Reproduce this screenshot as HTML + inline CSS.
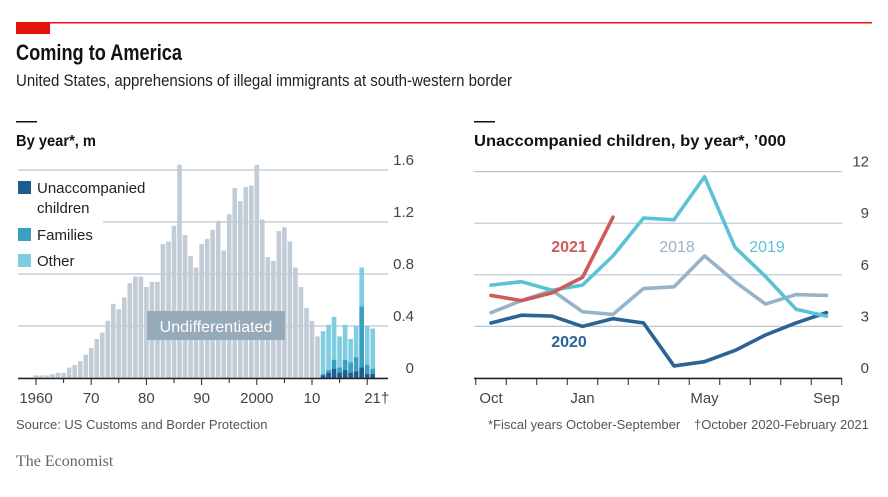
<!DOCTYPE html>
<html><head><meta charset="utf-8"><style>
body{margin:0;background:#fff;width:888px;height:492px;overflow:hidden;font-family:"Liberation Sans",sans-serif}
svg text{font-family:"Liberation Sans",sans-serif}
</style></head><body>
<svg id="c" width="888" height="492">
<rect x="16" y="22" width="856" height="1.5" fill="#e3120b"/>
<rect x="16" y="22" width="34" height="12" fill="#e3120b"/>
<text x="16" y="60" font-size="22" font-weight="bold" fill="#121212" textLength="166" lengthAdjust="spacingAndGlyphs">Coming to America</text>
<text x="16" y="86" font-size="17" fill="#222" textLength="496" lengthAdjust="spacingAndGlyphs">United States, apprehensions of illegal immigrants at south-western border</text>
<rect x="16" y="121" width="21" height="1.5" fill="#121212"/>
<text x="16" y="146" font-size="16" font-weight="bold" fill="#121212" textLength="80" lengthAdjust="spacingAndGlyphs">By year*, m</text>
<rect x="474" y="121" width="21" height="1.5" fill="#121212"/>
<text x="474" y="146" font-size="16" font-weight="bold" fill="#121212" textLength="312" lengthAdjust="spacingAndGlyphs">Unaccompanied children, by year*, ’000</text>
<g id="left"></g><g id="right"></g>
<text x="16" y="429" font-size="13" fill="#555">Source: US Customs and Border Protection</text>
<text x="488" y="429" font-size="13" fill="#555">*Fiscal years October-September</text>
<text x="694" y="429" font-size="13" fill="#555">†October 2020-February 2021</text>
<text x="16" y="466" font-size="16" fill="#666" style="font-family:'Liberation Serif',serif">The Economist</text>
</svg>
<script>
const years=[];for(let y=1960;y<=2021;y++)years.push(y);
const undiff=[.02,.02,.02,.03,.04,.04,.08,.1,.13,.18,.23,.3,.35,.44,.57,.53,.62,.73,.78,.78,.70,.74,.74,1.03,1.05,1.17,1.64,1.1,.94,.85,1.03,1.07,1.14,1.21,.98,1.26,1.46,1.36,1.47,1.48,1.64,1.22,.93,.90,1.13,1.16,1.05,.85,.7,.54,.44,.32];
const stackYears=[2012,2013,2014,2015,2016,2017,2018,2019,2020,2021];
const unacc=[.02,.04,.07,.04,.06,.04,.05,.08,.03,.03];
const families=[.01,.02,.07,.04,.08,.08,.11,.47,.07,.04];
const totals=[.36,.41,.47,.32,.41,.30,.40,.85,.40,.38];
const leftTicks=[0,0.4,0.8,1.2,1.6];
const leftTickLabels=["0","0.4","0.8","1.2","1.6"];
const xLabelYears=[1960,1970,1980,1990,2000,2010,2021];
const xLabels=["1960","70","80","90","2000","10","21†"];
const months=["Oct","Nov","Dec","Jan","Feb","Mar","Apr","May","Jun","Jul","Aug","Sep"];
const s2018=[3.8,4.5,5.1,3.85,3.7,5.2,5.3,7.1,5.6,4.3,4.85,4.8];
const s2019=[5.4,5.6,5.1,5.4,7.1,9.3,9.2,11.7,7.6,5.9,4.0,3.6];
const s2020=[3.2,3.65,3.6,3.0,3.45,3.2,0.7,0.95,1.6,2.5,3.2,3.8];
const s2021=[4.8,4.5,4.95,5.85,9.35];
const rightTicks=[0,3,6,9,12];
const NS="http://www.w3.org/2000/svg";
function mk(p,t,a){const e=document.createElementNS(NS,t);for(const k in a)e.setAttribute(k,a[k]);p.appendChild(e);return e;}
const L=document.getElementById('left'),R=document.getElementById('right');
const xL=y=>36+(y-1960)*5.52, yL=v=>378-v*130;
leftTicks.forEach((v,i)=>{const x0=v==1.2?103:18;
 const g=mk(L,'line',{x1:x0,x2:388,y1:yL(v),y2:yL(v),stroke:'#b7c6d3','stroke-width':1.2});
 
 
 const t=mk(L,'text',{x:414,y:yL(v)-5,'font-size':15,fill:'#444','text-anchor':'end'});t.textContent=leftTickLabels[i];
 
 });
years.forEach((y,i)=>{if(i<undiff.length){const b=mk(L,'rect',{x:xL(y)-2.3,y:yL(undiff[i]),width:4.6,height:undiff[i]*130,fill:'#c2ccd6'});
 
 }});
stackYears.forEach((y,i)=>{const x=xL(y)-2.3;
 const o=mk(L,'rect',{x:x,y:yL(totals[i]),width:4.6,height:totals[i]*130,fill:'#7fcde0'});
 
 
 const f=mk(L,'rect',{x:x,y:yL(unacc[i]+families[i]),width:4.6,height:(unacc[i]+families[i])*130,fill:'#3a9fc0'});
 
 
 const u=mk(L,'rect',{x:x,y:yL(unacc[i]),width:4.6,height:unacc[i]*130,fill:'#1f5c8c'});
 
 });
const ax=mk(L,'line',{x1:18,x2:388,y1:378.5,y2:378.5,stroke:'#222','stroke-width':1.5});


for(let y=1960;y<=2020;y+=5){const t=mk(L,'line',{x1:xL(y),x2:xL(y),y1:378,y2:y%10==0?385:383,stroke:'#222','stroke-width':1});
 
 }
xLabelYears.forEach((y,i)=>{const t=mk(L,'text',{x:xL(y)+(i==6?4:0),y:403,'font-size':15,fill:'#444','text-anchor':'middle'});t.textContent=xLabels[i];
 
 });
const lab=mk(L,'rect',{x:147,y:311,width:138,height:29,fill:'#97aab9'});


const lt=mk(L,'text',{x:216,y:332,'font-size':16,fill:'#fff','text-anchor':'middle'});lt.textContent='Undifferentiated';


[['#1f5c8c','Unaccompanied',187,'children'],['#3a9fc0','Families',234],['#7fcde0','Other',260]].forEach(d=>{
 const s=mk(L,'rect',{x:18,y:d[2]-6,width:13,height:13,fill:d[0]});
 
 
 const t=mk(L,'text',{x:37,y:d[2]+6,'font-size':15,fill:'#222'});t.textContent=d[1];
 
 
 if(d[3]){const t2=mk(L,'text',{x:37,y:d[2]+26,'font-size':15,fill:'#222'});t2.textContent=d[3];
 
 }});
const xR=i=>491+i*30.5, yR=v=>378-v*17.2;
rightTicks.forEach(v=>{const g=mk(R,'line',{x1:474,x2:842,y1:yR(v),y2:yR(v),stroke:'#b7c6d3','stroke-width':1.2});
 
 
 const t=mk(R,'text',{x:869,y:yR(v)-5,'font-size':15,fill:'#444','text-anchor':'end'});t.textContent=String(v);
 
 });
function line(data,col,name){const p=mk(R,'polyline',{points:data.map((v,i)=>xR(i)+','+yR(v)).join(' '),fill:'none',stroke:col,'stroke-width':3.6,'stroke-linejoin':'round','stroke-linecap':'round'});
 
 }
line(s2018,'#98b3c8','line-2018');
line(s2020,'#2a6496','line-2020');
line(s2019,'#5bc1d4','line-2019');
line(s2021,'#cf5a5a','line-2021');
[['2021',569,252,'#cf5a5a'],['2018',677,252,'#98b3c8'],['2019',767,252,'#5bc1d4'],['2020',569,347,'#2a6496']].forEach(d=>{
 const t=mk(R,'text',{x:d[1],y:d[2],'font-size':16,fill:d[3],'font-weight':d[0]=='2021'||d[0]=='2020'?'bold':'normal','text-anchor':'middle'});t.textContent=d[0];
 
 });
const ax2=mk(R,'line',{x1:474,x2:842,y1:378.5,y2:378.5,stroke:'#222','stroke-width':1.5});


for(let i=0;i<=12;i++){const t=mk(R,'line',{x1:xR(i)-15.25,x2:xR(i)-15.25,y1:378,y2:385,stroke:'#222','stroke-width':1});
 
 }
[0,3,7,11].forEach(i=>{const t=mk(R,'text',{x:xR(i),y:403,'font-size':15,fill:'#444','text-anchor':'middle'});t.textContent=months[i];
 
 });
</script>
</body></html>
